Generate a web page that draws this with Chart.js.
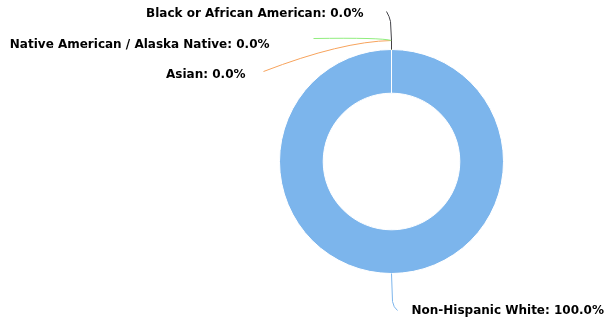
<!DOCTYPE html>
<html>
<head>
<meta charset="utf-8">
<script src="https://cdn.jsdelivr.net/npm/chart.js@4"></script>
<style>
  html, body { margin: 0; padding: 0; background: #ffffff; }
  #wrap { width: 606px; height: 331px; position: relative; }
</style>
</head>
<body>
<div id="wrap"><canvas id="raceChart"></canvas></div>
<script>
const categories = ['Non-Hispanic White', 'Black or African American', 'Native American / Alaska Native', 'Asian'];
const shares = [100.0, 0.0, 0.0, 0.0];
const colors = ['#7cb5ec', '#434348', '#90ed7d', '#f7a35c'];

// Draws outside labels with curved connectors, placed relative to the ring
const labelPlugin = {
    id: 'pieLabels',
    afterDatasetsDraw(chart) {
        const ctx = chart.ctx;
        const arc = chart.getDatasetMeta(0).data[0];
        const cx = arc.x, cy = arc.y, R = arc.outerRadius;
        const top = cy - R, bottom = cy + R;

        const layouts = [
            { tx: cx + 20, ty: bottom + 37.5, align: 'left',
              path: [[cx, bottom], [cx + 1, bottom + 28], [cx + 2, bottom + 34, cx + 6, bottom + 37]] },
            { tx: cx - 28, ty: top - 35.5, align: 'right',
              path: [[cx, top], [cx, top - 9], [cx - 1, top - 28], [cx - 2, top - 33, cx - 5, top - 38]] },
            { tx: cx - 122, ty: top - 4.5, align: 'right',
              path: [[cx, top], [cx, top - 9], [cx - 10, top - 12, cx - 78, top - 11]] },
            { tx: cx - 146, ty: top + 25.5, align: 'right',
              path: [[cx, top], [cx, top - 9], [cx - 50, top - 8, cx - 128, top + 22]] }
        ];

        ctx.save();
        ctx.lineWidth = 1;
        [3, 2, 1, 0].forEach(i => {
            const p = layouts[i].path;
            ctx.strokeStyle = colors[i];
            ctx.beginPath();
            ctx.moveTo(p[0][0], p[0][1]);
            for (let k = 1; k < p.length; k++) {
                if (p[k].length === 4) ctx.quadraticCurveTo(p[k][0], p[k][1], p[k][2], p[k][3]);
                else ctx.lineTo(p[k][0], p[k][1]);
            }
            ctx.stroke();
        });

        ctx.font = 'bold 12px "DejaVu Sans"';
        ctx.fillStyle = '#000000';
        ctx.textBaseline = 'middle';
        categories.forEach((name, i) => {
            const l = layouts[i];
            ctx.textAlign = l.align;
            ctx.fillText(`${name}: ${shares[i].toFixed(1)}%`, l.tx, l.ty);
        });
        ctx.restore();
    }
};

new Chart(document.getElementById('raceChart').getContext('2d'), {
    type: 'doughnut',
    data: {
        labels: categories,
        datasets: [{
            data: shares,
            backgroundColor: colors,
            borderColor: '#ffffff',
            borderWidth: 1
        }]
    },
    options: {
        responsive: true,
        maintainAspectRatio: false,
        animation: false,
        cutout: '61%',
        layout: { padding: { top: 49, bottom: 57, left: 279, right: 102 } },
        plugins: {
            legend: { display: false },
            tooltip: { enabled: false }
        }
    },
    plugins: [labelPlugin]
});
</script>
</body>
</html>
